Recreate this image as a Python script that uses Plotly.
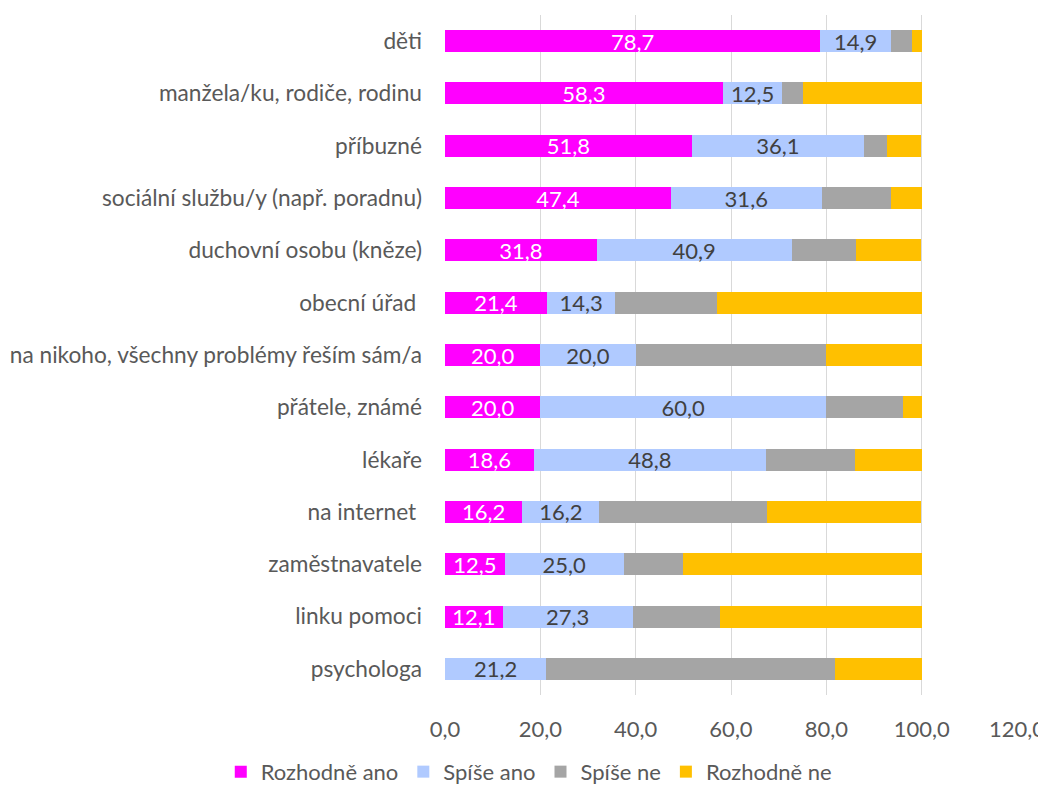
import plotly.graph_objects as go

categories = [
    "děti",
    "manžela/ku, rodiče, rodinu",
    "příbuzné",
    "sociální službu/y (např. poradnu)",
    "duchovní osobu (kněze)",
    "obecní úřad\u00a0",
    "na nikoho, všechny problémy řeším sám/a",
    "přátele, známé",
    "lékaře",
    "na internet\u00a0",
    "zaměstnavatele",
    "linku pomoci",
    "psychologa",
]

rozhodne_ano = [78.7, 58.3, 51.8, 47.4, 31.8, 21.4, 20.0, 20.0, 18.6, 16.2, 12.5, 12.1, 0.0]
spise_ano = [14.9, 12.5, 36.1, 31.6, 40.9, 14.3, 20.0, 60.0, 48.8, 16.2, 25.0, 27.3, 21.2]
spise_ne = [4.3, 4.2, 4.8, 14.6, 13.6, 21.4, 40.0, 16.0, 18.6, 35.1, 12.5, 18.2, 60.6]
rozhodne_ne = [2.1, 25.0, 7.2, 6.4, 13.6, 42.9, 20.0, 4.0, 14.0, 32.4, 50.0, 42.4, 18.2]

x_ticks = [0, 20, 40, 60, 80, 100, 120]
x_ticklabels = ["0,0", "20,0", "40,0", "60,0", "80,0", "100,0", "120,0"]

FONT = "Lato"
FS = 22


def lbl(vals):
    return [f"{v:.1f}".replace(".", ",") if v > 0 else "" for v in vals]


series = [
    ("Rozhodně ano", rozhodne_ano, "#FF00FF", lbl(rozhodne_ano), "white"),
    ("Spíše ano", spise_ano, "#B0CAFF", lbl(spise_ano), "#404040"),
    ("Spíše ne", spise_ne, "#A5A5A5", None, "#404040"),
    ("Rozhodně ne", rozhodne_ne, "#FFC000", None, "#404040"),
]

fig = go.Figure()
for name, vals, color, text, tcolor in series:
    fig.add_trace(go.Bar(
        y=categories, x=vals, name=name, orientation="h",
        marker=dict(color=color, line=dict(width=0)),
        text=text, textposition="inside" if text else "none",
        insidetextanchor="middle",
        textfont=dict(family=FONT, size=FS, color=tcolor),
        constraintext="none",
        hoverinfo="x+name",
    ))

# page body has an 8px margin; figure sized so that it ends at the window edge
fig.update_layout(
    barmode="stack",
    bargap=0.58,
    width=1038, height=781,
    paper_bgcolor="white", plot_bgcolor="white",
    margin=dict(l=437, r=29, t=7, b=94, autoexpand=False),
    font=dict(family=FONT, size=FS, color="#595959"),
    uniformtext=dict(minsize=FS, mode="show"),
    showlegend=True,
    legend=dict(
        orientation="h",
        x=-0.392, xanchor="left", y=-0.113, yanchor="middle",
        font=dict(family=FONT, size=FS, color="#595959"),
        traceorder="normal", itemwidth=30,
    ),
    xaxis=dict(
        range=[0, 120], tickvals=x_ticks, ticktext=x_ticklabels,
        showgrid=True, gridcolor="#D9D9D9", gridwidth=1,
        zeroline=False, showline=False,
        tickfont=dict(family=FONT, size=FS, color="#595959"),
        ticks="", ticklabelstandoff=19,
        fixedrange=True,
    ),
    yaxis=dict(
        autorange="reversed", showgrid=False, showline=False, zeroline=False,
        tickfont=dict(family=FONT, size=22.7, color="#595959"),
        ticks="", ticklabelstandoff=22,
    ),
)

fig.write_html("out.html")
